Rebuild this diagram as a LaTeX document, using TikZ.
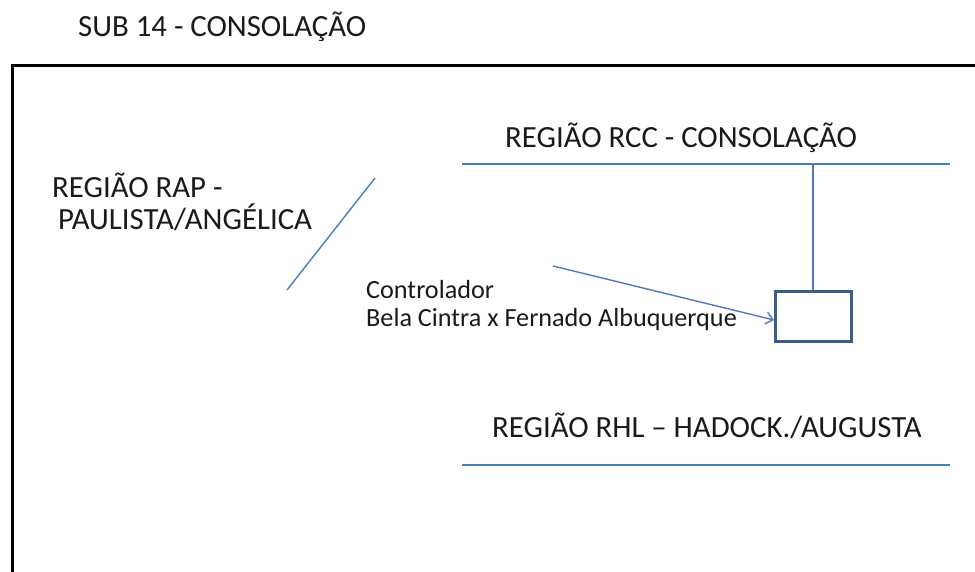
\documentclass[tikz,border=0pt]{standalone}
\usepackage{fontspec}
\setmainfont{Carlito}
\usetikzlibrary{arrows.meta}
\definecolor{lineblue}{HTML}{4A7EBB}
\definecolor{boxblue}{HTML}{385D8A}
\definecolor{txt}{HTML}{1A1A1A}
\tikzset{
  bigtxt/.style={anchor=base west, inner sep=0pt, text=txt, font=\fontsize{30.8}{34}\selectfont},
  smalltxt/.style={anchor=base west, inner sep=0pt, text=txt, font=\fontsize{26.2}{30}\selectfont},
  titletxt/.style={anchor=base west, inner sep=0pt, text=txt, font=\fontsize{30.8}{34}\selectfont},
  bline/.style={draw=lineblue, line width=1.4pt},
}
\begin{document}
\begin{tikzpicture}[x=1pt,y=-1pt]
\useasboundingbox (0,0) rectangle (975,571);
\node[titletxt] (title) at (78,36) {SUB 14 - CONSOLAÇÃO};
\draw[line width=3pt, black] (12,575) -- (12,65) -- (980,65);
\node[bigtxt] (rcc) at (505,147) {REGIÃO RCC - CONSOLAÇÃO};
\coordinate (rccL) at (462,164);
\coordinate (rccR) at (950,164);
\draw[bline] (rccL) -- (rccR);
\node[draw=boxblue, line width=2.6pt, minimum width=76pt, minimum height=50pt, inner sep=0pt, anchor=north west] (ctrl) at (774,290) {};
\coordinate (tap) at (813,164);
\draw[bline] (tap) -- (tap |- ctrl.north);
\node[bigtxt] (rap1) at (52,197) {REGIÃO RAP -};
\node[bigtxt] (rap2) at (58,229) {PAULISTA/ANGÉLICA};
\coordinate (rapA) at (375,178);
\coordinate (rapB) at (287,290);
\draw[bline] (rapA) -- (rapB);
\node[smalltxt] (c1) at (366,298) {Controlador};
\node[smalltxt] (c2) at (366,326) {Bela Cintra x Fernado Albuquerque};
\coordinate (arrS) at (553,266);
\draw[bline, -{Straight Barb[length=7pt,width=12pt]}] (arrS) -- (ctrl.west |- 0,320);
\node[bigtxt] (rhl) at (492,437) {REGIÃO RHL – HADOCK./AUGUSTA};
\coordinate (rhlL) at (462,465);
\coordinate (rhlR) at (950,465);
\draw[bline] (rhlL) -- (rhlR);
\end{tikzpicture}
\end{document}
